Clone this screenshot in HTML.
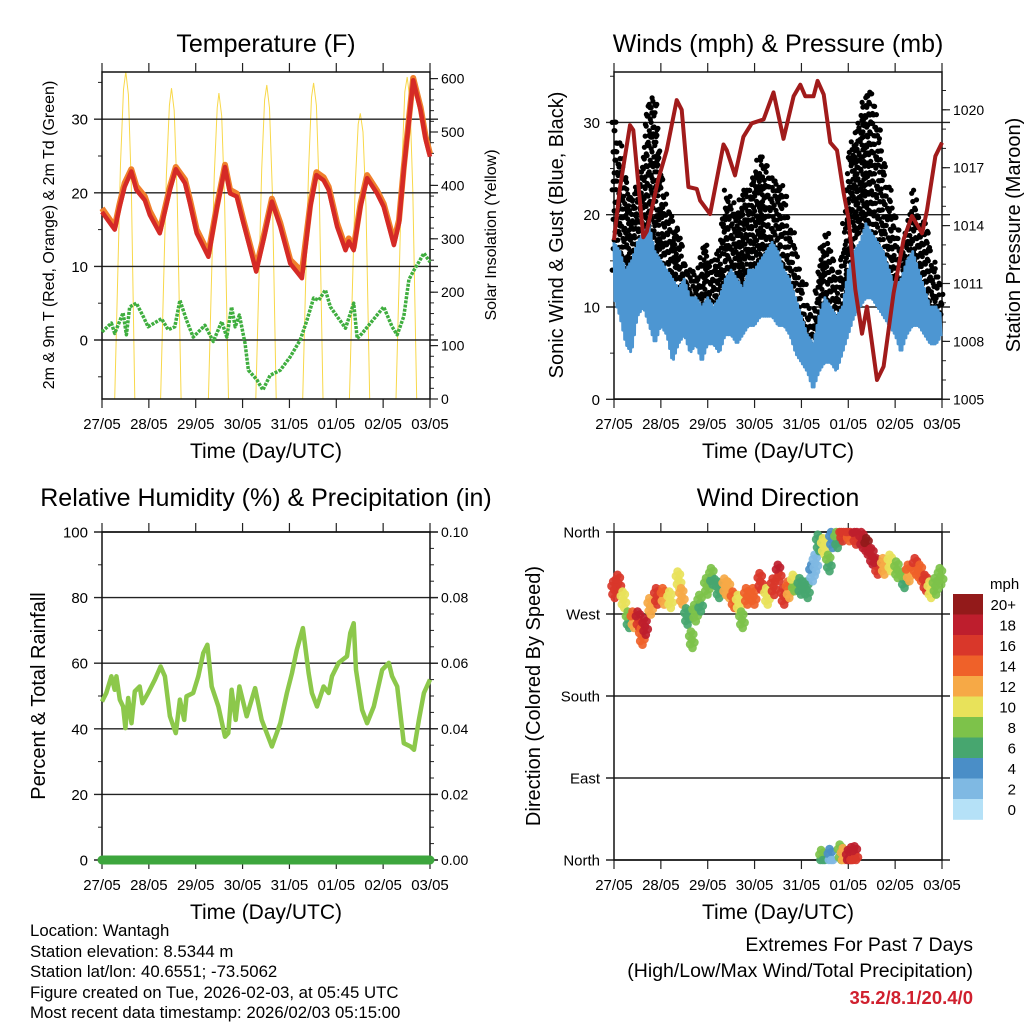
<!DOCTYPE html>
<html><head><meta charset="utf-8"><style>
html,body{margin:0;padding:0;background:#fff;}
svg{display:block;font-family:"Liberation Sans",Arial,sans-serif;}
</style></head><body>
<svg id="chart" xmlns="http://www.w3.org/2000/svg" width="1024" height="1024" viewBox="0 0 1024 1024">
<rect x="0" y="0" width="1024" height="1024" fill="#fff"/>
<text x="266" y="52" font-size="25" text-anchor="middle">Temperature (F)</text>
<text x="778" y="52" font-size="25" text-anchor="middle">Winds (mph) &amp; Pressure (mb)</text>
<text x="266" y="506" font-size="25" text-anchor="middle">Relative Humidity (%) &amp; Precipitation (in)</text>
<text x="778" y="506" font-size="25" text-anchor="middle">Wind Direction</text>
<text x="266" y="458" font-size="21" text-anchor="middle">Time (Day/UTC)</text>
<text x="778" y="458" font-size="21" text-anchor="middle">Time (Day/UTC)</text>
<text x="266" y="919" font-size="21" text-anchor="middle">Time (Day/UTC)</text>
<text x="778" y="919" font-size="21" text-anchor="middle">Time (Day/UTC)</text>
<text transform="translate(54,235) rotate(-90)" font-size="16" text-anchor="middle">2m &amp; 9m T (Red, Orange) &amp; 2m Td (Green)</text>
<text transform="translate(496,235) rotate(-90)" font-size="16" text-anchor="middle">Solar Insolation (Yellow)</text>
<text transform="translate(563,235) rotate(-90)" font-size="20" text-anchor="middle">Sonic Wind &amp; Gust (Blue, Black)</text>
<text transform="translate(1020,235) rotate(-90)" font-size="20" text-anchor="middle">Station Pressure (Maroon)</text>
<text transform="translate(45,696) rotate(-90)" font-size="20" text-anchor="middle">Percent &amp; Total Rainfall</text>
<text transform="translate(540,696) rotate(-90)" font-size="20" text-anchor="middle">Direction (Colored By Speed)</text>
<g font-size="16.8">
<text x="30" y="936">Location: Wantagh</text>
<text x="30" y="957">Station elevation: 8.5344 m</text>
<text x="30" y="977">Station lat/lon: 40.6551; -73.5062</text>
<text x="30" y="998">Figure created on Tue, 2026-02-03, at 05:45 UTC</text>
<text x="30" y="1018">Most recent data timestamp: 2026/02/03 05:15:00</text>
</g>
<text x="973" y="951" font-size="19.5" text-anchor="end">Extremes For Past 7 Days</text>
<text x="973" y="977" font-size="19.5" text-anchor="end">(High/Low/Max Wind/Total Precipitation)</text>
<text x="973" y="1004" font-size="18.5" font-weight="bold" fill="#d0202e" text-anchor="end">35.2/8.1/20.4/0</text>
</svg>
<script>
// ---------- data ----------
const dayLabels = ["27/05","28/05","29/05","30/05","31/05","01/05","02/05","03/05"];
const tempHours = [0,6.5,9,11.6,15,17.6,21.9,24.5,29.6,34.8,37.8,42.5,45,48.5,54.5,58.7,63,65.6,69,72.4,79,82.7,87,91.3,96.4,102.4,106.7,109.8,113.5,116.1,120.4,124.7,126.4,128.9,132.4,135.8,140.9,144.3,149.5,152.1,154.6,159.4,163.2,165.8,168];
const temp2m = [17.4,15.0,18.1,20.8,22.9,20.4,19.0,17.0,14.5,20.4,23.2,21.3,18.6,14.5,11.3,17.7,23.5,19.9,19.5,15.9,9.3,13.6,18.8,15.4,10.4,8.4,18.1,22.4,21.7,20.4,15.4,12.2,13.4,12.2,18.1,22.0,19.9,18.1,12.9,15.9,23.1,35.3,31.2,27.2,24.9];
const temp9m = [17.9,15.4,18.5,21.3,23.2,20.9,19.5,17.5,14.9,20.8,23.5,21.8,19.1,15.0,11.8,18.0,23.8,20.4,19.9,16.3,9.8,14.0,19.2,15.9,10.9,9.3,18.5,22.8,22.1,20.8,15.9,12.6,13.8,12.6,18.5,22.4,20.3,18.5,13.4,16.3,23.5,35.6,31.6,27.6,25.3];
const dewHours = [0,4.8,6.5,10.8,12.5,14.2,17.6,21.1,23.6,30.5,33.9,37.3,39.9,43.3,46.7,52.7,57,61.3,63.9,66.4,68.2,70.4,73.3,75,79.3,82.4,86.1,91.3,96.4,101.5,105,108.4,111,114.4,117,124.7,128.9,130.7,133.2,137.5,144.3,148.6,151.2,154.6,157.2,159.8,162.3,164.9,168];
const dewPoint = [1.1,2.3,0.9,3.7,0.7,4.5,5.0,3.2,1.8,2.9,1.4,1.8,5.4,2.7,0.4,2.0,-0.2,2.5,0.4,4.5,1.8,3.4,-0.5,-4.1,-5.4,-6.8,-4.8,-4.1,-2.3,0,2.7,5.7,5.4,6.8,4.5,1.6,5.0,0.2,0.9,2.3,4.5,1.8,0.7,3.2,8.2,9.5,10.6,11.8,10.6];
const solarHours = [0,6.5,8,9.5,11,12.2,13.5,15,16.8,30,31.5,33,34.5,35.6,37,38.5,40.5,54.5,56,57.5,59,59.9,61.3,62.8,64.8,78.8,80.3,81.8,83.3,84.4,85.8,87.3,89.2,102.8,104.3,105.8,107.3,108.4,109.8,111.3,113.2,126.7,128.2,129.7,131.2,132.3,133.7,135.2,137.1,150.6,152.1,153.6,155.1,156.3,157.7,159.2,161.2,168];
const solarValues = [0,0,220,440,580,613,570,400,0,0,210,420,550,582,540,380,0,0,210,420,545,573,530,370,0,0,215,430,560,588,545,385,0,0,215,430,565,592,550,385,0,0,200,400,515,535,500,360,0,0,215,435,575,603,560,390,0,0];
const pressHours = [0,3.1,8.2,9.9,15,16.8,22.7,27,32.1,34.7,38.1,42.4,44.1,49.2,56.1,57.8,62,66.3,70.6,76.6,81.7,86.8,92,95.4,98,102.2,104.3,107.4,110.8,114.2,117.6,120.2,123.6,127,129.6,134.7,138.1,143.2,148.4,152.6,157.8,160.3,164.6,168];
const pressure = [1013.25,1016.0,1019.2,1018.95,1013.4,1013.7,1016.4,1017.9,1020.5,1020.0,1016.0,1015.9,1015.3,1014.6,1018.2,1017.9,1016.6,1018.6,1019.3,1019.5,1020.9,1018.5,1020.7,1021.3,1020.7,1020.7,1021.5,1020.8,1018.3,1017.9,1015.7,1014.3,1010.7,1008.4,1009.8,1006.0,1006.7,1010.5,1013.3,1014.5,1013.6,1014.8,1017.6,1018.3];
const windHours = [0,3,6,9,12,15,18,21,24,27,30,33,36,39,42,45,48,51,54,57,60,63,66,69,72,75,78,81,84,87,90,93,96,99,102,105,108,111,114,117,120,123,126,129,132,135,138,141,144,147,150,153,156,159,162,165,168];
const windHigh = [17,16,14,15,17,18,19,16,15,14,13,12,13,11,11,10,11,10,11,13,14,13,12,14,14,15,16,17,16,14,13,11,9,7,6,9,11,10,9,10,14,16,17,19,18,17,16,14,12,13,15,16,14,12,10,10,9];
const windLow = [11,9,6,5,9,10,8,6,8,7,4,6,7,5,6,4,6,6,5,7,7,6,7,8,8,9,9,9,8,8,7,5,4,3,1,3,4,4,3,5,7,9,10,11,11,10,9,8,7,5,7,8,8,7,6,6,7];
const gustHigh = [31,27,24,21,24,26,33,33,25,20,19,18,15,14,13,15,16,14,16,22,21,20,22,22,24,26,25,24,24,22,19,16,13,10,9,14,18,16,13,15,26,28,30,33,33,30,26,22,20,16,18,22,20,19,16,14,11];
const gustLow = [14,12,10,11,13,15,14,14,11,10,9,10,9,8,8,7,8,7,9,12,11,11,12,12,14,14,15,13,13,12,10,8,6,4,3,7,8,7,6,8,14,17,18,19,18,16,14,12,11,9,10,12,11,10,9,9,8];
const rhHours = [0,2.2,4.8,6.5,7.4,9.1,10.8,12,13.4,15.1,16.8,19.3,20.7,23.6,27.1,30,32.2,34.8,37.8,39.9,42.1,43.3,46.7,49.3,51.9,54,56.2,59.6,63,64.7,66.4,68.5,70.4,74.1,78.4,81.8,87,91.3,94.7,97.3,99.8,102.9,105.8,107.5,110.1,113.5,116.1,117.8,121.2,125.5,127.2,128.9,130.1,133.2,135.8,139.2,143.5,146.9,148.6,151.2,154.6,158,159.8,162.3,164.9,168];
const relHumidity = [48.3,50.9,56.0,51.9,56,48.9,46.8,40.2,49.4,41.7,51.4,52.9,47.8,50.9,55.0,59.0,56.0,43.8,38.7,48.9,42.7,49.9,50.9,56.0,63.1,65.6,52.9,46.8,37.6,38.7,51.9,42.7,52.9,43.8,52.4,42.7,34.6,41.7,50.9,57.0,64.1,70.7,57.0,50.9,46.8,52.9,50.9,56.0,60.1,62.1,69.2,72.2,58.0,45.8,41.7,46.8,58.0,60.1,56.0,52.9,35.6,34.6,33.6,42.7,50.9,55.0];
const precipHours = [0,168];
const precipValues = [0,0];
const dirHours = [0,2.2,4.8,7.4,9.9,12.5,14.2,15.9,18.5,21.9,25.3,28.7,33,34.7,37.3,39.8,41.5,44.1,47.5,50.1,53.5,56.9,58.6,61.2,63.8,65.5,68,71.5,74.9,78.3,81.7,84.3,86.8,89.4,92,95.4,98.8,101.4,103.1,104.8,107.4,110,111.6,114.2,116.8,120.2,123.6,127,129.6,132.1,134.7,138.1,141.5,144.9,148.4,150.9,154.4,156.9,159.5,162,164.6,167.2,106.5,110.8,116,117.6,120.2,121.9,123.6];
const dirDegrees = [296.6,304,285.6,263.6,263.6,263.6,245.3,256.3,278.3,289.3,289.3,285.6,307.6,289.3,267.3,241.8,271,282,300.3,311.3,296.6,300,296.6,285.6,282,263.6,289.3,289.3,305.8,289.3,300,315,289.3,296.6,304,300.3,296.6,315,326,348,344.2,326,351.5,351.5,358.9,358.9,355.2,351.5,344.2,333.2,322.2,322.2,326,318.6,307.6,315,322.2,315,304,296.6,300.3,311.3,2,3,8,4,2,5,6];
const dirSpeeds = [16,16,10,7,13,17,14,18,12,16,13,10,10,12,6,8,8,7,8,7,6,12,12,14,10,8,14,14,16,10,16,17,16,13,9,6,6,3,2,6,10,7,4,7,16,15,17,18,19,18,17,12,10,8,7,13,15,14,16,10,8,8,7,3,8,12,18,17,17];
const speedBins = ["0","2","4","6","8","10","12","14","16","18","20+"];
const speedColors = ["#b5e1f7","#7fb9e3","#4a8ec7","#47a66f","#7dc24a","#e8e25a","#f6a946","#ef6129","#d9372a","#be1e2d","#931a1a"];

// ---------- helpers ----------
const NS = "http://www.w3.org/2000/svg";
const svg = document.getElementById("chart");
function mk(tag, attrs, parent) {
  const el = document.createElementNS(NS, tag);
  for (const k in attrs) el.setAttribute(k, attrs[k]);
  (parent || svg).appendChild(el);
  return el;
}
function xScale(p){ return h => p.x0 + h / 168 * (p.x1 - p.x0); }
const P1 = {x0:102,x1:430,y0:72,y1:399};
const P2 = {x0:614,x1:942,y0:72,y1:399};
const P3 = {x0:102,x1:430,y0:532,y1:860};
const P4 = {x0:614,x1:942,y0:532,y1:860};
const yTemp = v => 340 - v * 7.36;
const ySolar = v => 399 - v * 0.534;
const yWind = v => 399.3 - v * 9.23;
const yPress = v => 399.3 - (v - 1005) * 19.3;
const yRH = v => 860 - v * 3.28;
const yPrecip = v => 860 - v * 3280;
const yDir = v => 860 - v * 0.9111;
function speedColor(s){ let i = Math.floor(s/2); if(i>10) i=10; if(i<0) i=0; return speedColors[i]; }
function pts(xs, ys, fx, fy){ return xs.map((h,i)=>fx(h).toFixed(1)+","+fy(ys[i]).toFixed(1)).join(" "); }

function drawFrame(p, gname, leftTicks, leftFn, leftMinor, leftLbls, rightTicks, rightFn, rightMinor, rightLbls){
  const g = mk("g", {});
  
  
  const fx = xScale(p);
  leftTicks.forEach((v,i)=>{
    const y = leftFn(v);
    const ln = mk("line",{x1:p.x0-8,x2:p.x1+8,y1:y,y2:y,stroke:"#222","stroke-width":1.4},g);
    
    
    const t = mk("text",{x:p.x0-14,y:y+5.5,"font-size":15,"text-anchor":"end"},g);
    
    
    t.textContent = leftLbls[i];
  });
  leftMinor.forEach(v=>{
    const y = leftFn(v);
    const ln = mk("line",{x1:p.x0-4,x2:p.x0,y1:y,y2:y,stroke:"#222","stroke-width":1},g);
    
    
  });
  rightTicks.forEach((v,i)=>{
    const y = rightFn(v);
    const ln = mk("line",{x1:p.x1,x2:p.x1+8,y1:y,y2:y,stroke:"#222","stroke-width":1.2},g);
    
    
    if(rightLbls){
      const t = mk("text",{x:p.x1+11,y:y+5,"font-size":14,"text-anchor":"start"},g);
      
      
      t.textContent = rightLbls[i];
    }
  });
  rightMinor.forEach(v=>{
    const y = rightFn(v);
    const ln = mk("line",{x1:p.x1,x2:p.x1+4,y1:y,y2:y,stroke:"#222","stroke-width":1},g);
    
    
  });
  dayLabels.forEach((d,i)=>{
    const x = fx(i*24);
    const a = mk("line",{x1:x,x2:x,y1:p.y0-9,y2:p.y0,stroke:"#222","stroke-width":1.2},g);
    
    
    const b = mk("line",{x1:x,x2:x,y1:p.y1,y2:p.y1+9,stroke:"#222","stroke-width":1.2},g);
    
    
    const t = mk("text",{x:x,y:p.y1+30,"font-size":15,"text-anchor":"middle"},g);
    
    
    t.textContent = d;
  });
  const r = mk("rect",{x:p.x0,y:p.y0,width:p.x1-p.x0,height:p.y1-p.y0,fill:"none",stroke:"#111","stroke-width":1.5},g);
  
  
}
function range(a,b,s){ const r=[]; for(let v=a; v<=b+1e-9; v+=s) r.push(+v.toFixed(4)); return r; }

// ---------- Panel 1: temperature ----------
(function(){
  const fx = xScale(P1);
  const sol = mk("polyline",{points:pts(solarHours,solarValues,fx,ySolar),fill:"none",stroke:"#f8d84a","stroke-width":1});
  
  
  drawFrame(P1,"temperature-axes",[0,10,20,30],yTemp,[-5,5,15,25,35],["0","10","20","30"],
    [0,100,200,300,400,500,600],ySolar,range(20,600,20),["0","100","200","300","400","500","600"]);
  const o = mk("polyline",{points:pts(tempHours,temp9m,fx,yTemp),fill:"none",stroke:"#f0802c","stroke-width":6,"stroke-linejoin":"round"});
  
  
  const r = mk("polyline",{points:pts(tempHours,temp2m,fx,yTemp),fill:"none",stroke:"#d52a26","stroke-width":4.5,"stroke-linejoin":"round"});
  
  
  const d = mk("polyline",{points:pts(dewHours,dewPoint,fx,yTemp),fill:"none",stroke:"#3fae3f","stroke-width":3.5,"stroke-dasharray":"3 1.2","stroke-linejoin":"round"});
  
  
})();

// ---------- Panel 2: wind & pressure ----------
(function(){
  const fx = xScale(P2);
  drawFrame(P2,"wind-axes",[0,10,20,30],yWind,[5,15,25,35],["0","10","20","30"],
    [1005,1008,1011,1014,1017,1020],yPress,range(1006,1021,1),["1005","1008","1011","1014","1017","1020"]);
  const gg = mk("g",{fill:"#000"});
  
  
  for(let i=0;i<windHours.length-1;i++){
    for(let j=0;j<6;j++){
      const f = j/6;
      const h = windHours[i] + f*(windHours[i+1]-windHours[i]);
      const lo = gustLow[i] + f*(gustLow[i+1]-gustLow[i]);
      const hi = gustHigh[i] + f*(gustHigh[i+1]-gustHigh[i]);
      let k=0;
      for(let v=lo; v<=hi; v+=1.6, k++){
        const c = mk("circle",{cx:(fx(h)+(((k*7+j*3+i)%5)-2)*0.9).toFixed(1),cy:yWind(v+((k*2+j+i)%4)*0.35).toFixed(1),r:2.6},gg);
        
        
      }
    }
  }
  const zx=[], zy=[];
  for(let i=0;i<windHours.length-1;i++){
    for(let j=0;j<6;j++){
      const f=j/6;
      zx.push(windHours[i]+f*(windHours[i+1]-windHours[i]));
      const lo = windLow[i]+f*(windLow[i+1]-windLow[i]);
      const hi = windHigh[i]+f*(windHigh[i+1]-windHigh[i]);
      zy.push(j%2===0 ? hi : lo);
    }
  }
  const w = mk("polyline",{points:pts(zx,zy,fx,yWind),fill:"none",stroke:"#4d96d2","stroke-width":3,"stroke-linejoin":"round"});
  
  
  const p = mk("polyline",{points:pts(pressHours,pressure,fx,yPress),fill:"none",stroke:"#a11b1b","stroke-width":4,"stroke-linejoin":"round"});
  
  
})();

// ---------- Panel 3: humidity ----------
(function(){
  const fx = xScale(P3);
  drawFrame(P3,"humidity-axes",[0,20,40,60,80,100],yRH,[10,30,50,70,90],["0","20","40","60","80","100"],
    [0,0.02,0.04,0.06,0.08,0.1],yPrecip,range(0.005,0.1,0.005),["0.00","0.02","0.04","0.06","0.08","0.10"]);
  const l = mk("polyline",{points:pts(rhHours,relHumidity,fx,yRH),fill:"none",stroke:"#8cc84b","stroke-width":4.5,"stroke-linejoin":"round"});
  
  
  const pr = mk("polyline",{points:pts(precipHours,precipValues,fx,yPrecip),fill:"none",stroke:"#3da63d","stroke-width":9,"stroke-linecap":"round"});
  
  
})();

// ---------- Panel 4: wind direction ----------
(function(){
  const fx = xScale(P4);
  drawFrame(P4,"direction-axes",[0,90,180,270,360],yDir,[],["North","East","South","West","North"],[],yDir,[],null);
  const g = mk("g",{});
  
  
  const offs = [[0,0],[0.8,6],[-0.8,-5],[1.4,-3],[-1.3,4],[0.4,-9],[-0.4,9]];
  dirHours.forEach((h,i)=>{
    offs.forEach(o=>{
      let d = dirDegrees[i]+o[1];
      if(d>360) d=360; if(d<0) d=0;
      const c = mk("circle",{cx:fx(h+o[0]).toFixed(1),cy:yDir(d).toFixed(1),r:4.3,fill:speedColor(dirSpeeds[i]+(o[1]>0?1:0)),"fill-opacity":0.92},g);
      
      
    });
  });
  const cb = mk("g",{});
  
  
  const t0 = mk("text",{x:990,y:589,"font-size":15,"text-anchor":"start"},cb);
  
  
  t0.textContent = "mph";
  for(let i=0;i<11;i++){
    const idx = 10-i;
    const y = 594 + i*20.5;
    const r = mk("rect",{x:953,y:y,width:30,height:20.8,fill:speedColors[idx]},cb);
    
    
    const t = mk("text",{x:1016,y:y+16,"font-size":15,"text-anchor":"end"},cb);
    
    
    t.textContent = speedBins[idx];
  }
})();
</script>
</body></html>
